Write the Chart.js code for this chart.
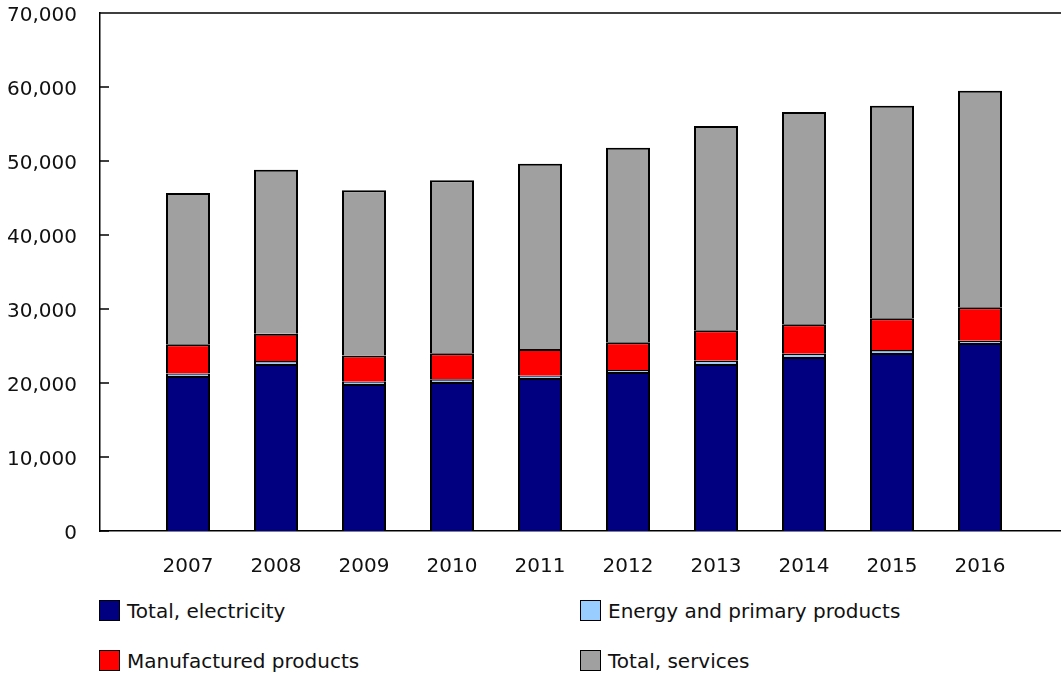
<!DOCTYPE html>
<html>
<head>
<meta charset="utf-8">
<script src="https://cdn.jsdelivr.net/npm/chart.js@4"></script>
<style>
  html, body { margin: 0; padding: 0; background: #fff; overflow: hidden; width: 1061px; height: 674px; }
  #wrap { position: relative; width: 1061px; height: 674px; overflow: hidden; }
  canvas { position: absolute; left: 0; top: -22px; }
  .lg { position: absolute; font-family: "DejaVu Sans", Verdana, sans-serif; font-size: 20px; color: #111; white-space: nowrap; line-height: 22px; }
  .lg span.box { display: inline-block; width: 19px; height: 19px; border: 1px solid #000; vertical-align: -3px; margin-right: 7px; }
</style>
</head>
<body>
<div id="wrap">
  <canvas id="c" width="1092" height="612"></canvas>
  <div id="legend"></div>
</div>
<script>
const years = ['2007','2008','2009','2010','2011','2012','2013','2014','2015','2016'];
const seriesNames = ['Total, electricity', 'Energy and primary products', 'Manufactured products', 'Total, services'];
const electricity = [20950, 22570, 19870, 20140, 20680, 21490, 22570, 23510, 24050, 25400];
const energyPrimary = [350, 400, 300, 350, 300, 250, 450, 450, 400, 300];
const manufactured = [3930, 3700, 3530, 3520, 3620, 3760, 4100, 3970, 4290, 4530];
const services = [20450, 22150, 22340, 23380, 25040, 26300, 27610, 28690, 28730, 29270];
const yTicks = [0, 10000, 20000, 30000, 40000, 50000, 60000, 70000];
const colors = ['#000080', '#99ccff', '#ff0000', '#a0a0a0'];

const labels = [''].concat(years, ['']);
function pad(arr) { return [null].concat(arr, [null]); }
const seriesData = [electricity, energyPrimary, manufactured, services];

const FONT = { family: '"DejaVu Sans", Verdana, sans-serif', size: 20 };

const frame = {
  id: 'frame',
  afterDraw(chart) {
    const ctx = chart.ctx, a = chart.chartArea, y = chart.scales.y;
    ctx.save();
    ctx.strokeStyle = '#000';
    ctx.lineWidth = 1.5;
    ctx.beginPath();
    ctx.moveTo(a.left, a.top);
    ctx.lineTo(a.right + 5, a.top);
    yTicks.forEach(v => {
      const p = y.getPixelForValue(v);
      ctx.moveTo(a.left, p);
      ctx.lineTo(a.left + 9, p);
    });
    ctx.stroke();
    ctx.restore();
  }
};

new Chart(document.getElementById('c'), {
  type: 'bar',
  data: {
    labels: labels,
    datasets: seriesNames.map((n, i) => ({
      label: n,
      data: pad(seriesData[i]),
      backgroundColor: colors[i],
      borderColor: '#000',
      borderWidth: 2,
      barPercentage: 0.5,
      categoryPercentage: 1.0
    }))
  },
  options: {
    responsive: false,
    animation: false,
    layout: { padding: 0 },
    plugins: { legend: { display: false }, tooltip: { enabled: false } },
    scales: {
      x: {
        stacked: true,
        offset: false,
        grid: { display: false, drawTicks: false },
        border: { display: true, color: '#000', width: 1.5 },
        ticks: { font: FONT, color: '#111', padding: 24, maxRotation: 0, autoSkip: false },
        afterFit(s) { s.height = 59; }
      },
      y: {
        stacked: true,
        min: 0, max: 70000,
        grid: { display: false, drawTicks: false },
        border: { display: true, color: '#000', width: 1.5 },
        afterBuildTicks(s) { s.ticks = yTicks.map(v => ({ value: v })); },
        ticks: {
          font: FONT, color: '#111', padding: 23, labelOffset: 3,
          callback: v => v.toLocaleString('en-US')
        },
        afterFit(s) { s.width = 100; }
      }
    }
  },
  plugins: [frame]
});

const legend = document.getElementById('legend');
const pos = [[99, 600], [580, 600], [99, 650], [580, 650]];
[0, 1, 2, 3].forEach((i, k) => {
  const d = document.createElement('div');
  d.className = 'lg';
  d.style.left = pos[k][0] + 'px';
  d.style.top = pos[k][1] + 'px';
  d.innerHTML = '<span class="box" style="background:' + colors[i] + '"></span>';
  d.appendChild(document.createTextNode(seriesNames[i]));
  legend.appendChild(d);
});
</script>
</body>
</html>
